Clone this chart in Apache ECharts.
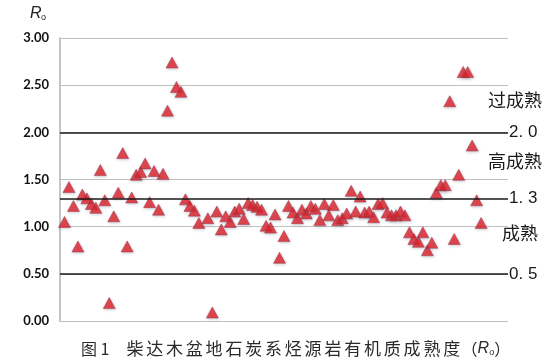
<!DOCTYPE html>
<html><head><meta charset="utf-8">
<script src="https://cdn.jsdelivr.net/npm/echarts@6/dist/echarts.min.js"></script>
<style>html,body{margin:0;padding:0;background:#fff}#c{width:556px;height:364px}</style>
</head><body><div id="c"></div>
<script>
// sample number (position along the section) and Ro values
const sampleNo = [1,2,3,4,5,6,7,8,9,10,11,12,13,14,15,16,17,18,19,20,21,22,23,24,25,26,27,28,29,30,31,33,34,35,36,37,38,39,40,41,42,43,44,45,46,47,48,49,50,51,52,53,54,55,56,57,58,59,60,61,62,63,64,65,66,67,68,69,70,71,72,73,74,75,76,77,78,79,80,81,82,83,84,85,86,87,88,89,90,91,92,93,94];
const roValues = [1.05,1.42,1.22,0.79,1.34,1.30,1.24,1.20,1.60,1.28,0.19,1.11,1.36,1.78,0.79,1.31,1.55,1.58,1.67,1.26,1.59,1.18,1.56,2.23,2.74,2.48,2.43,1.29,1.22,1.17,1.04,1.09,0.09,1.16,0.97,1.11,1.05,1.16,1.19,1.08,1.25,1.23,1.21,1.18,1.01,0.99,1.13,0.67,0.90,1.22,1.15,1.09,1.18,1.14,1.22,1.19,1.07,1.24,1.12,1.23,1.07,1.09,1.14,1.38,1.16,1.32,1.15,1.16,1.10,1.24,1.25,1.15,1.12,1.12,1.16,1.12,0.94,0.87,0.84,0.94,0.75,0.83,1.36,1.44,1.44,2.33,0.87,1.55,2.64,2.64,1.86,1.28,1.04];
// threshold lines and their labels
const thresholds = [2.0, 1.3, 0.5];
const thresholdLabels = ['2. 0', '1. 3', '0. 5'];
const zoneNames = ['过成熟', '高成熟', '成熟'];
const yTicks = [0, 0.5, 1.0, 1.5, 2.0, 2.5, 3.0];
const captionMain = '柴达木盆地石炭系烃源岩有机质成熟度';

const chart = echarts.init(document.getElementById('c'), null, {renderer:'canvas'});
const pts = sampleNo.map((s,i)=>[s, roValues[i]]);
const capRich = '{a|图 1}{g|}' + captionMain.split('').map(c=>'{c|'+c+'}').join('') + '{p|（}{r|R}{s|o}{p|）}';

chart.setOption({
  animation:false,
  backgroundColor:'#fff',
  grid:{left:60,right:48,top:38,bottom:43},
  xAxis:{type:'value',min:0,max:100,show:false},
  yAxis:{type:'value',min:yTicks[0],max:yTicks[yTicks.length-1],interval:0.5,
    axisLine:{show:true,lineStyle:{color:'#c4c4c4',width:2}},
    axisTick:{show:false},
    splitLine:{lineStyle:{color:'#c0c0c0',width:1}},
    axisLabel:{formatter:v=>v.toFixed(2),color:'#111',fontSize:13,fontWeight:'bold',fontFamily:'Lato',margin:11}
  },
  series:[
    {type:'scatter',data:[],z:1,silent:true,
     markLine:{silent:true,symbol:'none',animation:false,
       lineStyle:{color:'#1a1a1a',width:1.6,type:'solid'},
       label:{show:true,position:'end',distance:1,color:'#1a1a1a',fontSize:17,fontFamily:'Liberation Sans',
         formatter:p=>thresholdLabels[thresholds.indexOf(p.value)]},
       data:thresholds.map(t=>({yAxis:t}))}
    },
    {type:'scatter',z:3,data:pts,symbol:'triangle',symbolSize:[12,11],
     itemStyle:{color:'#e11f28',borderColor:'#9a3040',borderWidth:0.6,shadowColor:'rgba(80,90,120,0.35)',shadowBlur:3,shadowOffsetX:0.5,shadowOffsetY:1}}
  ],
  graphic:[
    {type:'text',left:30,top:6,style:{text:'R',fontSize:16,fontStyle:'italic',fontFamily:'Liberation Sans',fill:'#222'}},
    {type:'text',left:41,top:13,style:{text:'o',fontSize:9,fontFamily:'Liberation Sans',fill:'#222'}},
    {type:'text',left:488,top:91,style:{text:zoneNames[0],fontSize:18,fontFamily:'Noto Sans CJK SC',fill:'#1a1a1a'}},
    {type:'text',left:488,top:152,style:{text:zoneNames[1],fontSize:18,fontFamily:'Noto Sans CJK SC',fill:'#1a1a1a'}},
    {type:'text',left:502,top:224,style:{text:zoneNames[2],fontSize:18,fontFamily:'Noto Sans CJK SC',fill:'#1a1a1a'}},
    {type:'text',left:81,top:340,style:{text:capRich,fill:'#2a2a2a',fontFamily:'Noto Sans CJK SC',
      rich:{
        a:{fontSize:16,fontFamily:'Noto Sans CJK SC',fill:'#2a2a2a',width:30},
        g:{width:14},
        c:{fontSize:17,fontFamily:'Noto Sans CJK SC',fill:'#2a2a2a',width:19.8,align:'center'},
        p:{fontSize:16,fontFamily:'Noto Sans CJK SC',fill:'#2a2a2a'},
        r:{fontSize:16,fontStyle:'italic',fontFamily:'Liberation Sans',fill:'#2a2a2a'},
        s:{fontSize:9,fontFamily:'Liberation Sans',fill:'#2a2a2a',verticalAlign:'bottom'}
      }}}
  ]
});
</script></body></html>
